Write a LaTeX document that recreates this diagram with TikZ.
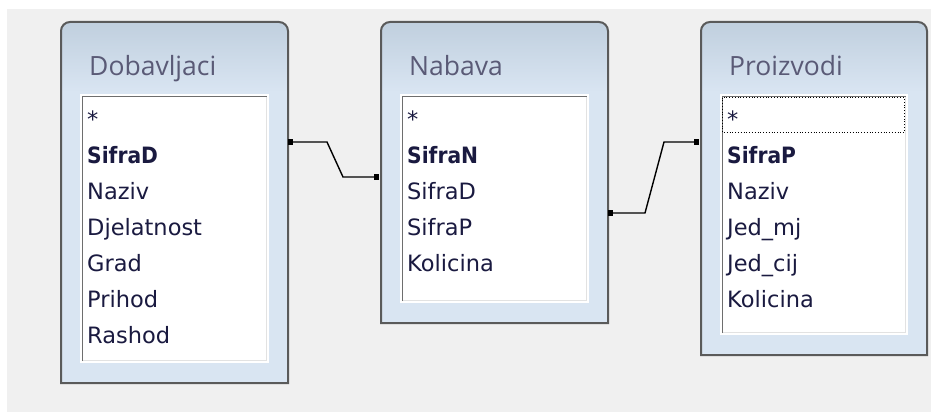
\documentclass[tikz,border=0pt]{standalone}
\usepackage{fontspec}
\newfontfamily\titlefont{Open Sans}
\newfontfamily\fieldfont{DejaVu Sans}[BoldFeatures={FakeStretch=0.9}]
\usetikzlibrary{calc}
\definecolor{bg}{HTML}{F0F0F0}
\definecolor{body}{HTML}{D9E5F2}
\definecolor{titletop}{HTML}{C0CFDE}
\definecolor{framec}{HTML}{5A5A5A}
\definecolor{titlec}{HTML}{5A5A76}
\definecolor{fieldc}{HTML}{1A1A40}
\definecolor{listdark}{HTML}{6E6E6E}
\definecolor{listlight}{HTML}{E2E2E2}
\tikzset{
  frame/.style={draw=framec, line width=2pt},
  titletext/.style={font=\titlefont\fontsize{26.5}{30}\selectfont, text=titlec, inner sep=0pt, anchor=base west},
  field/.style={font=\fieldfont\fontsize{22.5}{26}\selectfont, text=fieldc, inner sep=0pt, anchor=base west},
  keyfield/.style={field, font=\fieldfont\bfseries\fontsize{22.5}{26}\selectfont},
  conn/.style={draw=black, line width=1.4pt},
  endmark/.style={fill=black},
}
% #1 L, #2 R, #3 B
\newcommand\acctable[3]{%
  \begin{scope}
    \path[clip] (#1,#3) [rounded corners=9pt] -- (#1,22) -- (#2,22) [sharp corners] -- (#2,#3) -- cycle;
    \fill[body] (#1,22) rectangle (#2,#3);
    \shade[top color=titletop, bottom color=body] (#1,22) rectangle (#2,92);
  \end{scope}
  \draw[frame] (#1,#3) [rounded corners=9pt] -- (#1,22) -- (#2,22) [sharp corners] -- (#2,#3) -- cycle;
  \fill[white] (#1+19,94) rectangle (#2-19,#3-20);
  \draw[listlight, line width=1.2pt] (#1+21,#3-22.5) -- (#2-21.5,#3-22.5) -- (#2-21.5,96);
  \draw[listdark, line width=1.5pt] (#1+21.5,#3-22) -- (#1+21.5,96.5) -- (#2-21,96.5);
}
\begin{document}
\begin{tikzpicture}[x=1pt,y=-1pt]
\useasboundingbox (0,0) rectangle (931,412);
\fill[white] (0,0) rectangle (931,412);
\fill[bg] (7,9) rectangle (931,412);

% Dobavljaci
\acctable{61}{288}{383}
\node[titletext] (dobT) at (89,75) {Dobavljaci};
\node[field] (dob0) at (87,127) {*};
\node[keyfield] (dob1) at (87,163) {SifraD};
\node[field] (dob2) at (87,199) {Naziv};
\node[field] (dob3) at (87,235) {Djelatnost};
\node[field] (dob4) at (87,271) {Grad};
\node[field] (dob5) at (87,307) {Prihod};
\node[field] (dob6) at (87,343) {Rashod};

% Nabava
\acctable{381}{608}{323}
\node[titletext] (nabT) at (409,75) {Nabava};
\node[field] (nab0) at (407,127) {*};
\node[keyfield] (nab1) at (407,163) {SifraN};
\node[field] (nab2) at (407,199) {SifraD};
\node[field] (nab3) at (407,235) {SifraP};
\node[field] (nab4) at (407,271) {Kolicina};

% Proizvodi
\acctable{701}{927}{355}
\node[titletext] (proT) at (729,75) {Proizvodi};
\draw[black, line width=0.8pt, dotted] (722.5,97.5) rectangle (904,132.5);
\node[field] (pro0) at (727,127) {*};
\node[keyfield] (pro1) at (727,163) {SifraP};
\node[field] (pro2) at (727,199) {Naziv};
\node[field] (pro3) at (727,235) {Jed\_mj};
\node[field] (pro4) at (727,271) {Jed\_cij};
\node[field] (pro5) at (727,307) {Kolicina};

% connectors
\coordinate (c1s) at (290,142);
\coordinate (c1e) at (377,177);
\coordinate (c2s) at (610,213);
\coordinate (c2e) at (697,142);
\draw[conn] (c1s) -- ++(37,0) -- ($(c1e)+(-34,0)$) -- (c1e);
\draw[conn] (c2s) -- ++(35,0) -- ($(c2e)+(-33,0)$) -- (c2e);
\fill[endmark] ($(c1s)+(-2,-3)$) rectangle ++(5,6);
\fill[endmark] ($(c1e)+(-3,-3)$) rectangle ++(5,6);
\fill[endmark] ($(c2s)+(-2,-3)$) rectangle ++(5,6);
\fill[endmark] ($(c2e)+(-3,-3)$) rectangle ++(5,6);
\end{tikzpicture}
\end{document}
